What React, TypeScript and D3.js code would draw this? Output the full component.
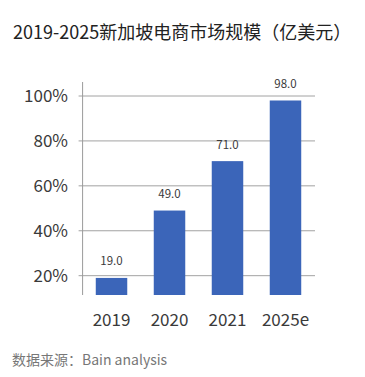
import React from "react";
import * as d3 from "d3";

const categories = ["2019", "2020", "2021", "2025e"];
const values = [19.0, 49.0, 71.0, 98.0];
const yTicks = [20, 40, 60, 80, 100];
const title = "2019-2025新加坡电商市场规模（亿美元）";
const source = "数据来源：Bain analysis";

const W = 365;
const H = 377;
const FONT = "'Noto Sans CJK SC', 'Noto Sans', sans-serif";

export default function App() {
  const x = d3
    .scaleBand<string>()
    .domain(categories)
    .range([82.6, 314.4])
    .paddingInner(0.457)
    .paddingOuter(0.227);
  const y = d3.scaleLinear().domain([0, 100]).range([320.6, 96]);
  const baseY = 295;
  const axisX = 82.6;

  return (
    <svg
      width={W}
      height={H}
      style={{ position: "absolute", left: 0, top: 0, background: "#fff" }}
      fontFamily={FONT}
    >
      <rect width={W} height={H} fill="#fff" />
      <text x={13} y={39} fontSize={18} fill="#222">
        {title}
      </text>
      {yTicks.map((t) => (
        <g key={t}>
          <line x1={axisX - 4} x2={315} y1={y(t)} y2={y(t)} stroke="#8a8a8a" strokeWidth={0.8} />
          <text
            x={68}
            y={y(t)}
            dy="0.36em"
            textAnchor="end"
            fontSize={17}
            fill="#3a3a3a"
          >
            {t}%
          </text>
        </g>
      ))}
      <line x1={axisX} x2={axisX} y1={82} y2={baseY} stroke="#9a9a9a" strokeWidth={1} />
      {categories.map((c, i) => (
        <g key={c}>
          <rect
            x={x(c)}
            y={y(values[i])}
            width={x.bandwidth()}
            height={baseY - y(values[i])}
            fill="#3b65b9"
          />
          <text
            x={(x(c) as number) + x.bandwidth() / 2}
            y={y(values[i]) - 12.5}
            textAnchor="middle"
            fontSize={11.5}
            fill="#3a3a3a"
          >
            {values[i].toFixed(1)}
          </text>
          <text
            x={(x(c) as number) + x.bandwidth() / 2}
            y={320}
            dy="0.36em"
            textAnchor="middle"
            fontSize={17}
            fill="#3a3a3a"
          >
            {c}
          </text>
        </g>
      ))}
      <text x={12} y={360} dy="0.36em" fontSize={14} fill="#777">
        {source}
      </text>
    </svg>
  );
}
